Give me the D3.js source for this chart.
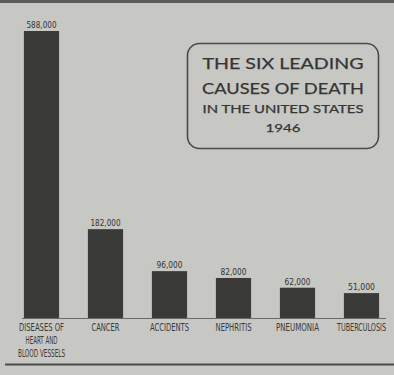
<!DOCTYPE html>
<html><head><meta charset="utf-8">
<script src="https://cdn.jsdelivr.net/npm/d3@7"></script>
<style>
html,body{margin:0;padding:0;background:#c7c7c3;}
svg{display:block;}
</style></head>
<body>
<script>
const categories = ["HEART", "CANCER", "ACCIDENTS", "NEPHRITIS", "PNEUMONIA", "TUBERCULOSIS"];
const categoryLabels = [["DISEASES OF", "HEART AND", "BLOOD VESSELS"], ["CANCER"], ["ACCIDENTS"], ["NEPHRITIS"], ["PNEUMONIA"], ["TUBERCULOSIS"]];
const deaths = [588000, 182000, 96000, 82000, 62000, 51000];
const valueLabels = ["588,000", "182,000", "96,000", "82,000", "62,000", "51,000"];
const titleLines = ["THE SIX LEADING", "CAUSES OF DEATH", "IN THE UNITED STATES", "1946"];

const W = 394, H = 375;
const svg = d3.select("body").append("svg").attr("width", W).attr("height", H);

svg.append("rect").attr("width", W).attr("height", H).attr("fill", "#c7c7c3");
// top dark band
svg.append("rect").attr("x", 0).attr("y", 0).attr("width", W).attr("height", 3).attr("fill", "#5c5c5a");

const x = d3.scaleBand().domain(categories).range([9.5, 393.5]).paddingInner(0.45).paddingOuter(0.225);
const y = d3.scaleLinear().domain([0, 588000]).range([318, 31]);

const condensed = "'DejaVu Sans Condensed','Liberation Sans Narrow',sans-serif";

// baseline
svg.append("line").attr("x1", 22).attr("x2", 386).attr("y1", y(0) + 0.5).attr("y2", y(0) + 0.5)
  .attr("stroke", "#6a6a68").attr("stroke-width", 1);

svg.selectAll("rect.bar").data(deaths).enter().append("rect").attr("class", "bar")
  .attr("x", (d, i) => x(categories[i]))
  .attr("width", x.bandwidth())
  .attr("y", d => y(d))
  .attr("height", d => y(0) - y(d))
  .attr("fill", "#3a3a39");

const valWidths = [30, 30, 26, 26, 26, 27];
svg.selectAll("text.val").data(deaths).enter().append("text").attr("class", "val")
  .attr("x", (d, i) => x(categories[i]) + x.bandwidth() / 2)
  .attr("y", d => y(d) - 3)
  .attr("text-anchor", "middle")
  .attr("font-family", condensed)
  .attr("font-size", 9)
  .attr("fill", "#333")
  .attr("textLength", (d, i) => valWidths[i])
  .attr("lengthAdjust", "spacingAndGlyphs")
  .text((d, i) => valueLabels[i]);

const labelWidths = [[45, 32, 47], [28], [39], [36], [43], [49]];
categories.forEach((c, i) => {
  categoryLabels[i].forEach((line, j) => {
    svg.append("text")
      .attr("transform", `translate(${x(c) + x.bandwidth() / 2},${331 + j * 13}) scale(1,1.18)`)
      .attr("text-anchor", "middle")
      .attr("font-family", condensed)
      .attr("font-size", 8.5)
      .attr("fill", "#3a3a3a")
      .attr("textLength", labelWidths[i][j])
      .attr("lengthAdjust", "spacingAndGlyphs")
      .text(line);
  });
});

// bottom rule
svg.append("line").attr("x1", 5).attr("x2", W).attr("y1", 364.5).attr("y2", 364.5)
  .attr("stroke", "#4a4a48").attr("stroke-width", 2);

// title box
svg.append("rect").attr("x", 187.5).attr("y", 43.5).attr("width", 191).attr("height", 105)
  .attr("rx", 12).attr("ry", 12)
  .attr("fill", "none").attr("stroke", "#4a4a48").attr("stroke-width", 1.6);

const titleFont = "Lato, 'Open Sans', sans-serif";
const tl = [
  {t: titleLines[0], y: 69, s: 16, w: 161},
  {t: titleLines[1], y: 94, s: 16, w: 162},
  {t: titleLines[2], y: 113, s: 11.5, w: 161},
  {t: titleLines[3], y: 132, s: 11.5, w: 35}
];
tl.forEach(d => {
  svg.append("text").attr("x", 283).attr("y", d.y)
    .attr("text-anchor", "middle")
    .attr("font-family", titleFont)
    .attr("font-size", d.s)
    .attr("fill", "#353535")
    .attr("stroke", "#353535")
    .attr("stroke-width", 0.25)
    .attr("textLength", d.w)
    .attr("lengthAdjust", "spacingAndGlyphs")
    .text(d.t);
});
</script>
</body></html>
